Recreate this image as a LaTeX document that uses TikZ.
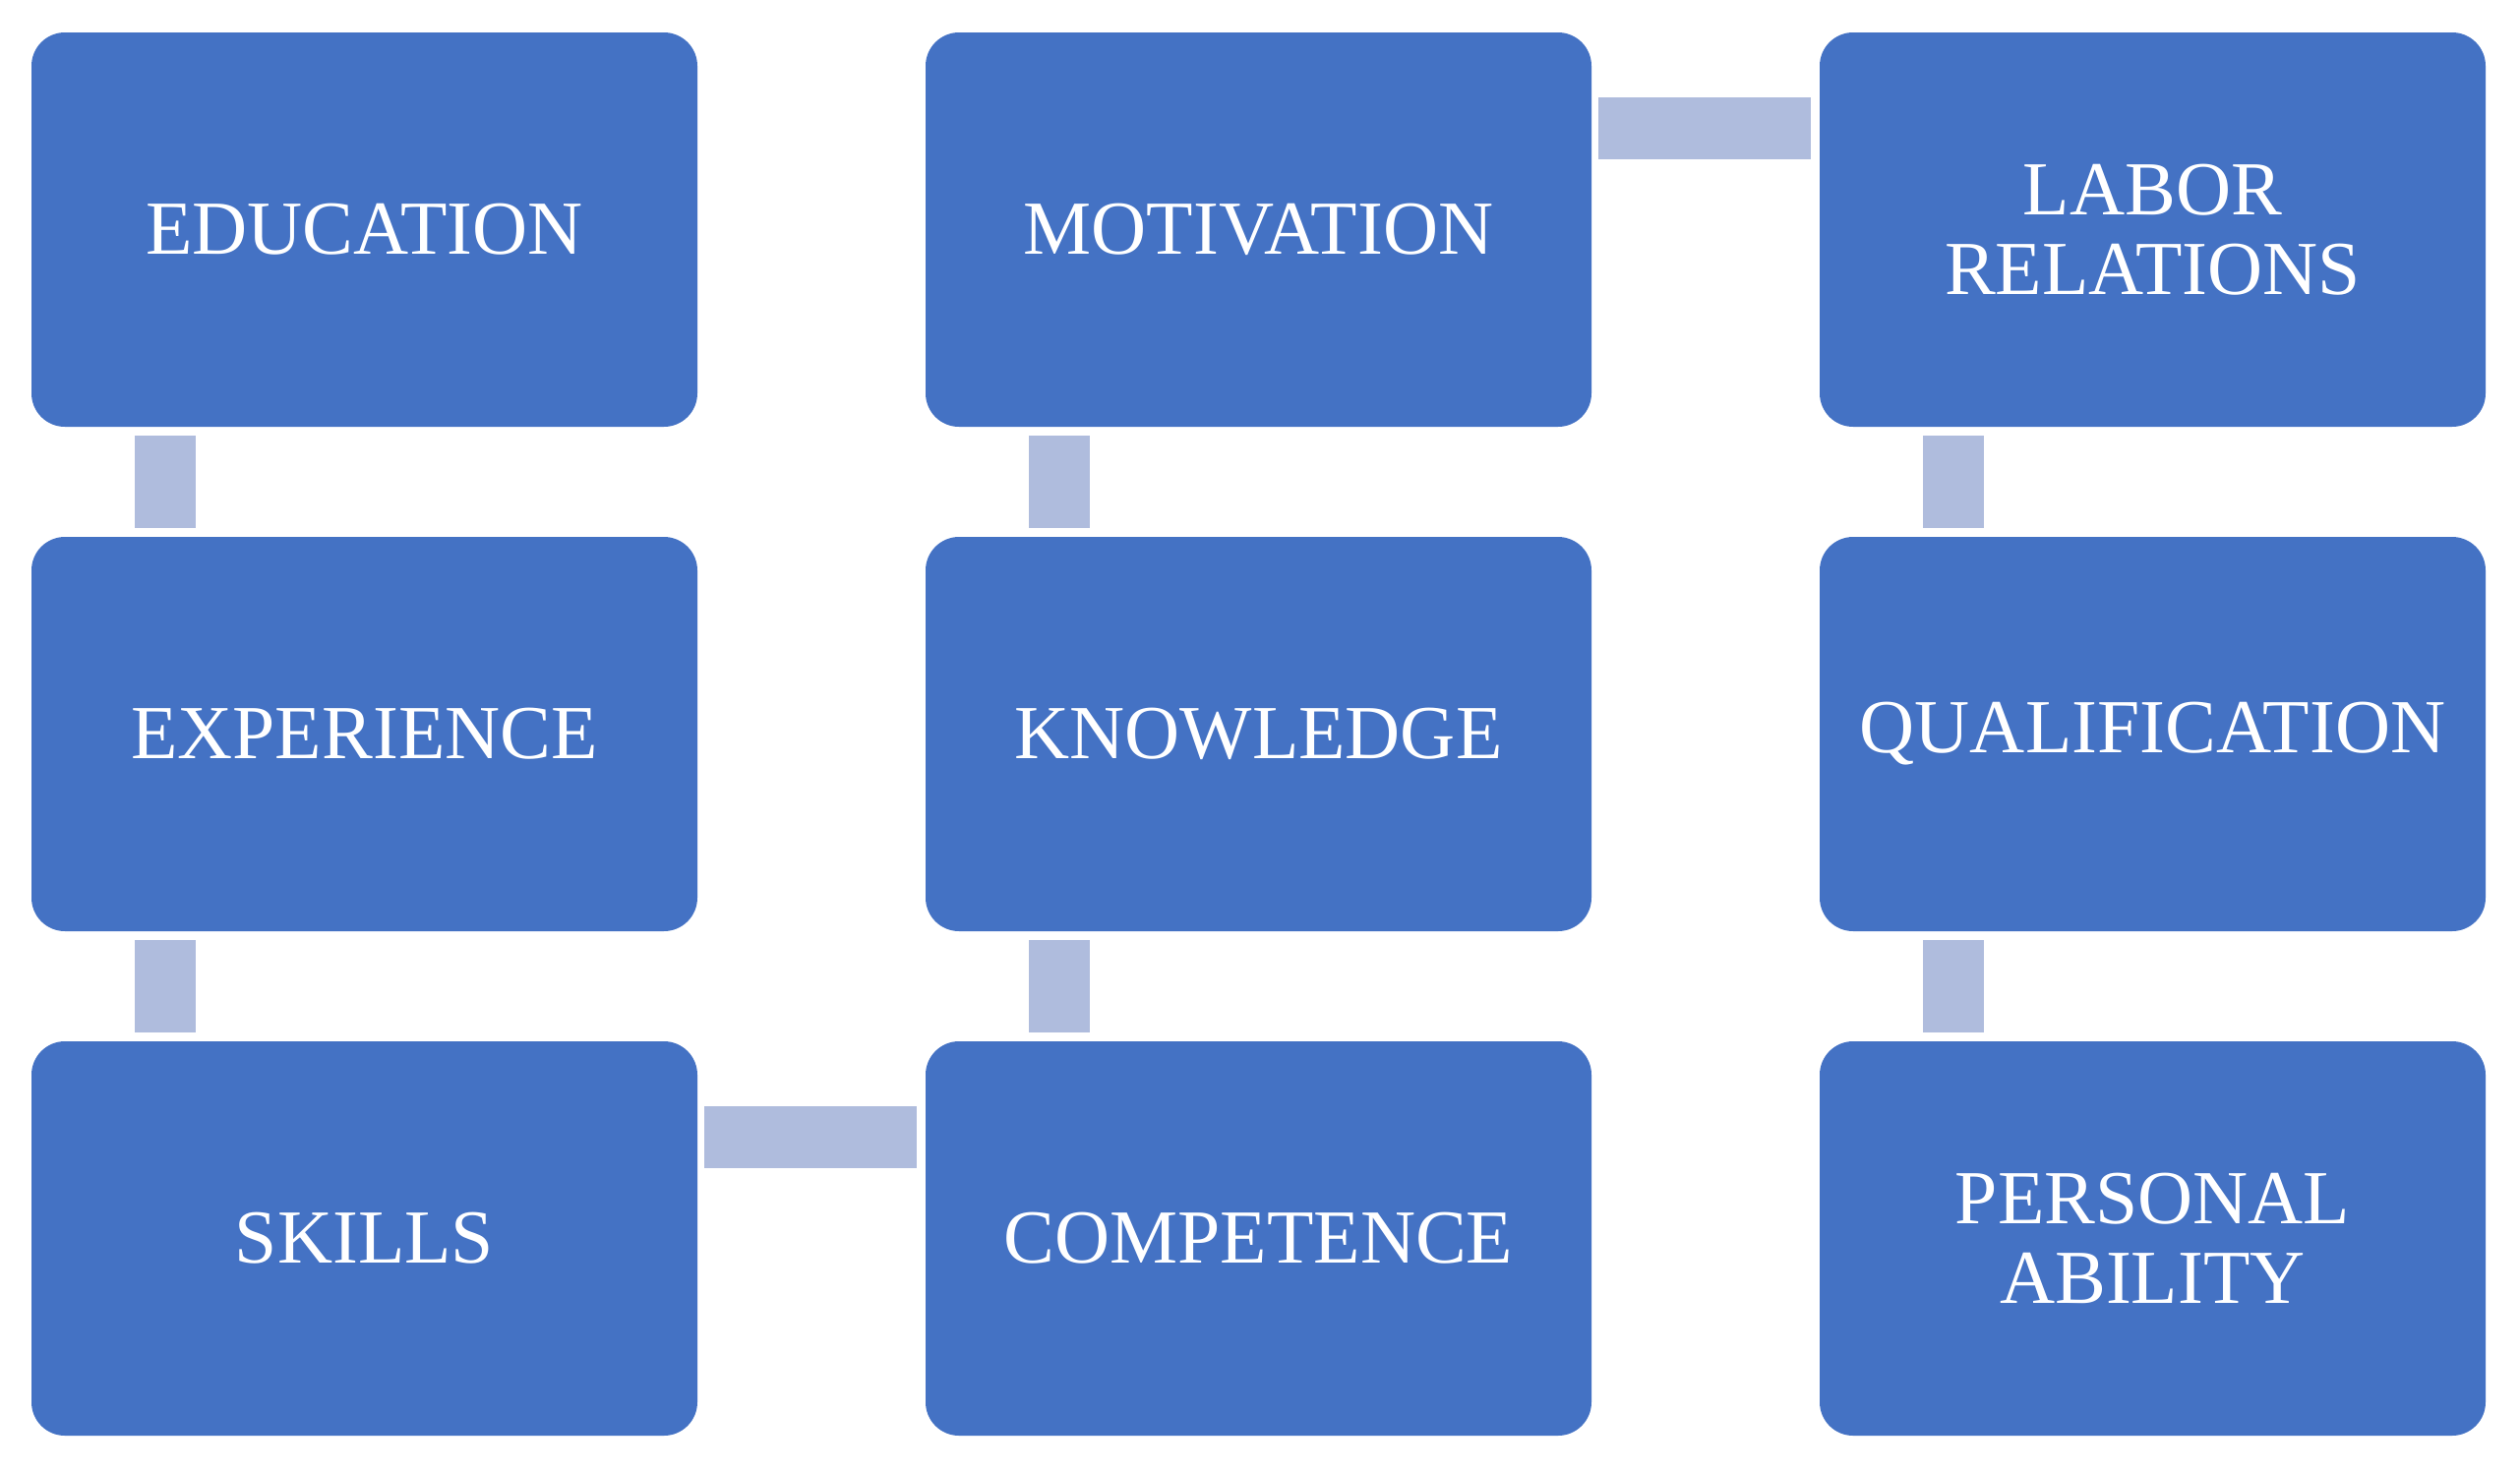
\documentclass[tikz,border=0pt]{standalone}
\usepackage{fontspec}
\setmainfont{Liberation Serif}
\usetikzlibrary{calc}
\definecolor{boxblue}{HTML}{4472C4}
\definecolor{connblue}{RGB}{175,188,221}
\tikzset{
  stagebox/.style={rectangle, rounded corners=10.2pt, fill=boxblue, draw=none,
    minimum width=203.1pt, minimum height=120.3pt, inner sep=0pt, outer sep=0pt,
    text=white, align=center, font=\fontsize{23.3}{24.3}\selectfont},
  connbar/.style={fill=connblue, draw=none}
}
\begin{document}
\begin{tikzpicture}[x=0.3pt, y=-0.3pt]
\useasboundingbox (0,0) rectangle (2562,1496);
% boxes
\node[stagebox] (edu)  at (370.5,233.5)  {EDUCATION};
\node[stagebox] (exp)  at (370.5,746.5)  {EXPERIENCE};
\node[stagebox] (ski)  at (370.5,1259.5) {SKILLS};
\node[stagebox] (com)  at (1279.5,1259.5) {COMPETENCE};
\node[stagebox] (kno)  at (1279.5,746.5)  {KNOWLEDGE};
\node[stagebox] (mot)  at (1279.5,233.5)  {MOTIVATION};
\node[stagebox] (lab)  at (2188.5,233.5)  {LABOR\\RELATIONS};
\node[stagebox] (qua)  at (2188.5,746.5)  {QUALIFICATION};
\node[stagebox] (per)  at (2188.5,1259.5) {PERSONAL\\ABILITY};
% vertical connectors
\path[connbar] ($(edu.south west)+(105,9)$) rectangle ($(exp.north west)+(167,-9)$);
\path[connbar] ($(exp.south west)+(105,9)$) rectangle ($(ski.north west)+(167,-9)$);
\path[connbar] ($(com.north west)+(105,-9)$) rectangle ($(kno.south west)+(167,9)$);
\path[connbar] ($(kno.north west)+(105,-9)$) rectangle ($(mot.south west)+(167,9)$);
\path[connbar] ($(lab.south west)+(105,9)$) rectangle ($(qua.north west)+(167,-9)$);
\path[connbar] ($(qua.south west)+(105,9)$) rectangle ($(per.north west)+(167,-9)$);
% horizontal connectors
\path[connbar] ($(ski.north east)+(7,66)$) rectangle ($(com.north west)+(-9,129)$);
\path[connbar] ($(mot.north east)+(7,66)$) rectangle ($(lab.north west)+(-9,129)$);
\end{tikzpicture}
\end{document}
